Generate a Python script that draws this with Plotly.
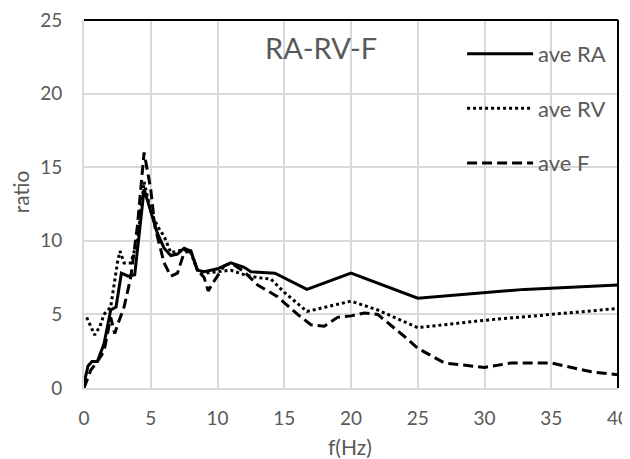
import plotly.graph_objects as go

# Average RA
f_ra = [0, 0.3, 0.6, 1.0, 1.5, 2.0, 2.4, 2.8, 3.3, 3.8, 4.2, 4.5, 5.0, 5.5, 6.0, 6.5, 7.0, 7.5, 8.0, 8.5, 9.0, 10.0, 11.0, 12.0, 12.5, 14.3, 16.7, 20.0, 25.0, 33.0, 40.0]
v_ra = [0.3, 1.5, 1.8, 1.8, 3.0, 5.3, 5.5, 7.8, 7.6, 7.7, 11.0, 13.5, 12.0, 10.5, 9.5, 9.0, 9.1, 9.5, 9.3, 8.0, 7.9, 8.1, 8.5, 8.2, 7.9, 7.8, 6.7, 7.8, 6.1, 6.7, 7.0]

# Average RV
f_rv = [0.2, 0.5, 0.8, 1.2, 1.5, 2.0, 2.5, 2.7, 3.0, 3.5, 4.0, 4.5, 5.0, 5.5, 6.0, 6.5, 7.0, 7.5, 8.0, 8.5, 9.0, 10.0, 11.0, 12.0, 13.0, 14.0, 15.0, 16.7, 20.0, 22.0, 25.0, 30.0, 35.0, 40.0]
v_rv = [4.8, 4.2, 3.6, 4.2, 5.0, 5.5, 8.5, 9.3, 8.5, 8.5, 10.0, 14.0, 12.0, 11.0, 10.3, 9.2, 9.3, 9.4, 9.2, 8.0, 7.8, 7.9, 8.0, 7.7, 7.5, 7.4, 6.5, 5.2, 5.9, 5.3, 4.1, 4.6, 5.0, 5.4]

# Average F
f_f = [0, 0.5, 1.0, 1.5, 2.0, 2.3, 2.6, 3.0, 3.5, 4.0, 4.5, 5.0, 5.3, 5.7, 6.0, 6.5, 7.0, 7.5, 8.0, 8.5, 9.0, 9.3, 9.7, 10.5, 11.0, 12.0, 13.0, 14.5, 16.0, 17.0, 18.0, 19.0, 20.0, 21.0, 22.0, 24.0, 25.0, 27.0, 30.0, 32.0, 35.0, 38.0, 40.0]
v_f = [0.0, 1.2, 1.8, 2.5, 4.8, 3.7, 4.5, 5.5, 7.5, 11.0, 16.0, 13.5, 11.0, 9.5, 8.5, 7.6, 7.8, 9.2, 9.3, 8.0, 7.5, 6.6, 7.2, 8.3, 8.5, 7.9, 7.0, 6.2, 5.0, 4.3, 4.2, 4.8, 4.9, 5.1, 5.0, 3.5, 2.7, 1.7, 1.4, 1.7, 1.7, 1.1, 0.9]

x_ticks = [0, 5, 10, 15, 20, 25, 30, 35, 40]
y_ticks = [0, 5, 10, 15, 20, 25]

GRAY = "#595959"
FONT = "Lato"

fig = go.Figure()
fig.add_trace(go.Scatter(x=f_ra, y=v_ra, mode="lines", name="ave RA", legendgroup="a",
                         line=dict(color="black", width=3)))
fig.add_trace(go.Scatter(x=f_rv, y=v_rv, mode="lines", name="ave RV", legendgroup="b",
                         line=dict(color="black", width=3, dash="3px,3px")))
fig.add_trace(go.Scatter(x=f_f, y=v_f, mode="lines", name="ave F", legendgroup="c",
                         line=dict(color="black", width=3, dash="10px,5px")))

fig.update_layout(
    width=630, height=459,
    margin=dict(l=76, r=20, t=12, b=79, autoexpand=False),
    paper_bgcolor="white", plot_bgcolor="white",
    font=dict(family=FONT, color=GRAY),
    showlegend=True,
    legend=dict(x=0.708, y=0.965, xanchor="left", yanchor="top",
                bgcolor="rgba(0,0,0,0)", font=dict(size=22, color=GRAY, family=FONT),
                tracegroupgap=23, itemwidth=66),
    annotations=[
        dict(text="RA-RV-F", x=0.4447, y=0.924, xref="paper", yref="paper",
             xanchor="center", yanchor="middle",
             showarrow=False, font=dict(size=29, color=GRAY, family=FONT)),
        dict(text="f(Hz)", x=0.498, y=-0.160, xref="paper", yref="paper",
             xanchor="center", yanchor="middle",
             showarrow=False, font=dict(size=21, color=GRAY, family=FONT)),
        dict(text="ratio", x=-0.119, y=0.533, xref="paper", yref="paper", textangle=-90,
             xanchor="center", yanchor="middle",
             showarrow=False, font=dict(size=21, color=GRAY, family=FONT)),
    ],
    shapes=[
        dict(type="rect", xref="paper", yref="paper", x0=0.700, x1=0.989, y0=0.543, y1=0.986,
             fillcolor="white", line=dict(width=0), layer="between"),
        dict(type="line", xref="paper", yref="paper", x0=0, x1=1, y0=1, y1=1,
             line=dict(color="black", width=2)),
        dict(type="line", xref="paper", yref="paper", x0=1, x1=1, y0=0, y1=1,
             line=dict(color="black", width=2)),
    ],
)
fig.update_xaxes(range=[0, 40], tickvals=x_ticks, ticktext=[str(t) for t in x_ticks],
                 showgrid=True, gridcolor="#d9d9d9", gridwidth=2, zeroline=False,
                 showline=True, linecolor="#d9d9d9", linewidth=2,
                 ticklabeloverflow="allow",
                 tickfont=dict(size=19, color=GRAY, family=FONT), ticklabelstandoff=12)
fig.update_yaxes(range=[0, 25], tickvals=y_ticks, ticktext=[str(t) for t in y_ticks],
                 showgrid=True, gridcolor="#d9d9d9", gridwidth=2, zeroline=False,
                 showline=True, linecolor="#d9d9d9", linewidth=2,
                 ticklabeloverflow="allow",
                 tickfont=dict(size=19, color=GRAY, family=FONT), ticklabelstandoff=16)

fig.write_html("out.html")
